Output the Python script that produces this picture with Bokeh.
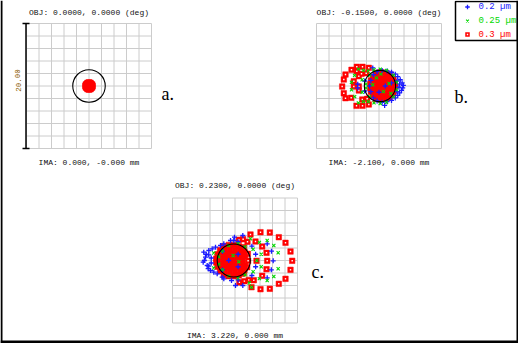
from bokeh.plotting import figure
from bokeh.models import Range1d
from bokeh.core.properties import value
from bokeh.embed import file_html
from bokeh.resources import INLINE

W, H = 518, 343
SCALE = 6.25  # px per micron
GRID_TICKS = [-10, -8, -6, -4, -2, 0, 2, 4, 6, 8, 10]

OBJ_LABELS = ["OBJ: 0.0000, 0.0000 (deg)", "OBJ: -0.1500, 0.0000 (deg)", "OBJ: 0.2300, 0.0000 (deg)"]
IMA_LABELS = ["IMA: 0.000, -0.000 mm", "IMA: -2.100, 0.000 mm", "IMA: 3.220, 0.000 mm"]
PANEL_TAGS = ["a.", "b.", "c."]
WAVELENGTHS = ["0.2 \u00b5m", "0.25 \u00b5m", "0.3 \u00b5m"]
SCALE_BAR_LABEL = "20.00"
AIRY_X = [0.0, 0.15, -0.2]
AIRY_Y = [0.0, 0.0, 0.0]
AIRY_R = [2.6, 2.5, 2.65]

# ---- panel a (on axis) ----
A_BLUE_X = [0.0, 0.3, -0.3, 0.2, -0.2]
A_BLUE_Y = [0.0, 0.2, -0.2, -0.3, 0.3]
A_GREEN_X = [0.0, 0.25, -0.25, 0.1, -0.1]
A_GREEN_Y = [0.0, -0.1, 0.1, 0.3, -0.3]
A_RED_X = [0.0, 0.3, -0.3, 0.0, 0.0, 0.6, -0.6, 0.0, 0.0, 0.36, -0.36, 0.36, -0.36, 0.52, -0.52, 0.52, -0.52, 0.24, -0.24, 0.24, -0.24]
A_RED_Y = [0.0, 0.0, 0.0, 0.3, -0.3, 0.0, 0.0, 0.6, -0.6, 0.36, 0.36, -0.36, -0.36, 0.24, 0.24, -0.24, -0.24, 0.52, 0.52, -0.52, -0.52]

# ---- panel b ----
B_RED_RING_X = [-3.55, -2.64, -1.63, -4.40, -3.55, -2.80, -5.63, -3.23, -5.89, -4.03, -3.23, -5.63, -3.23, -4.45, -3.60, -2.64, -1.63, -2.67, -4.03, -2.05, -1.89, -5.36, -5.36]
B_RED_RING_Y = [3.07, 3.07, 2.91, 2.59, 2.37, 1.95, 1.04, 1.57, -0.08, -0.08, -0.08, -1.15, -0.72, -1.89, -3.17, -3.17, -2.96, -2.16, 0.77, 2.05, -2.05, 1.84, -1.95]
B_RED_CORE_X = [-0.5, 0.3, 1.1, 1.7, -1.0, -0.2, 0.5, 1.2, 1.9, 2.3, -1.3, -0.6, 0.1, 0.9, 1.6, 2.4,
                -1.4, -0.7, 0.0, 0.7, 1.4, 2.1, 2.6, -1.4, -0.7, 0.0, 0.7, 1.4, 2.1,
                -1.3, -0.6, 0.1, 0.9, 1.6, 2.4, -1.0, -0.2, 0.5, 1.2, 1.9, 2.3, -0.5, 0.3, 1.1, 1.7]
B_RED_CORE_Y = [2.1, 2.2, 2.1, 1.9, 1.5, 1.6, 1.4, 1.6, 1.4, 1.1, 0.9, 1.0, 0.8, 1.0, 0.8, 0.6,
                0.3, 0.4, 0.2, 0.3, 0.2, 0.3, 0.0, -0.3, -0.4, -0.3, -0.4, -0.2, -0.3,
                -0.9, -1.0, -0.8, -1.0, -0.8, -0.7, -1.5, -1.6, -1.4, -1.6, -1.4, -1.2, -2.1, -2.2, -2.1, -1.9]
B_BLUE_X = [3.9, 3.8, 3.7, 3.6, 3.4, 3.3, 3.0, 3.0, 2.6, 2.6, 2.0, 2.0, 1.3, 1.3, 0.5, 0.5, -0.3, -0.3, -0.9, -0.9, -1.3, -1.3, -1.5,
            3.3, 3.2, 2.9, 2.9, -2.3, -2.3, -3.4, -3.4, 0.9, -1.0, 1.0, 0.0, 2.0]
B_BLUE_Y = [0.1, -0.3, 0.5, -0.7, 1.0, -1.1, 1.5, -1.5, 1.9, -1.9, 2.2, -2.3, 2.4, -2.5, 2.5, -2.6, 2.3, -2.4, 1.8, -1.9, 0.9, -0.9, 0.0,
            0.3, -0.2, 0.8, -0.9, 0.8, -0.8, 0.3, -0.3, -3.1, 2.9, 0.0, -1.0, 0.5]
B_GREEN_X = [-3.3, -2.5, -1.7, -0.8, 0.2, 1.2, -3.9, -4.4, -4.4, -3.9, -3.3, -2.5, -1.7, -0.8, 0.2, 1.2,
             -2.7, -2.7, -2.1, -2.1, -1.5, -1.5, 2.3, 2.3, 2.8, 2.8, -0.4, 0.7, 1.6, -1.0, 0.3, 1.9]
B_GREEN_Y = [2.7, 2.5, 2.4, 2.6, 2.7, 2.5, 1.7, 0.6, -0.6, -1.7, -2.7, -2.5, -2.5, -2.7, -2.8, -2.6,
             1.0, -1.0, 0.3, -0.3, 1.7, -1.7, 1.7, -1.7, 0.6, -0.6, 1.3, -0.9, 0.4, 0.2, 1.9, -1.2]

# ---- panel c ----
C_RED_RING_X = [4.08, 5.57, 7.01, 8.08, 8.88, 9.15, 8.88, 8.08, 7.01, 5.57, 4.08, 2.64, 2.48,
                5.04, 5.15, 5.04, 4.35, 4.35, 3.28, 3.01, 3.44, 2.05, 2.10, 1.95, 1.41, 1.41, 0.61, 1.3, 2.0, 0.7, 1.5, 2.2]
C_RED_RING_Y = [4.53, 4.48, 3.73, 2.83, 1.44, -0.05, -1.49, -2.93, -3.73, -4.53, -4.59, -4.27, 4.16,
                1.23, -0.05, -1.39, -2.45, 2.24, 3.04, -3.15, -0.05, 1.07, -0.05, -1.07, 2.13, -1.97, 3.31, 3.4, 3.0, -3.5, -3.3, -3.1]
C_RED_CORE_X = [-1.8, -1.0, -0.2, 0.6, 1.2, -2.4, -1.6, -0.8, 0.0, 0.8, 1.5,
                -2.8, -2.1, -1.4, -0.7, 0.1, 0.9, 1.6, -3.0, -2.3, -1.6, -0.9, -0.2, 0.5, 1.2,
                -3.0, -2.3, -1.6, -0.9, -0.2, 0.5, 1.2, -2.8, -2.1, -1.4, -0.7, 0.1, 0.9, 1.6,
                -2.4, -1.6, -0.8, 0.0, 0.8, 1.5, -1.8, -1.0, -0.2, 0.6, 1.2]
C_RED_CORE_Y = [2.3, 2.5, 2.5, 2.3, 2.0, 1.7, 1.8, 1.8, 1.7, 1.6, 1.4,
                1.0, 1.1, 1.0, 1.1, 1.0, 0.9, 0.7, 0.3, 0.4, 0.3, 0.4, 0.3, 0.4, 0.2,
                -0.3, -0.4, -0.3, -0.4, -0.3, -0.4, -0.3, -1.0, -1.1, -1.0, -1.1, -1.0, -0.9, -0.8,
                -1.7, -1.8, -1.8, -1.7, -1.6, -1.5, -2.3, -2.5, -2.5, -2.4, -2.1]
C_BLUE_X = [-5.0, -4.72, -5.09, -4.45, -4.19, -3.65, -3.12, -3.92, -3.39, -2.85, -2.05, -1.79, -2.32, -1.79, -4.6, -4.9, -4.3, -3.8, -3.8, -4.2, -4.2,
            -0.19, 1.25, -0.08, 0.08, 1.25, -0.72, -0.56, 0.5, 0.5,
            5.84, 6.11, 5.81, 5.15, 5.15, 3.3, 3.3, 2.7, 2.7,
            -1.0, 0.5, 0.5, -2.0, -2.0]
C_BLUE_Y = [1.33, 0.53, -0.27, -0.8, 1.6, 1.87, 2.13, -1.6, -1.87, -2.13, -2.67, -2.93, 2.4, 2.67, 1.0, 0.0, -1.3, 0.4, -0.4, 0.9, -0.9,
            3.2, 4.0, 3.73, -4.0, -4.0, 3.2, -3.2, 3.0, -3.1,
            1.49, -0.05, -1.49, 2.67, -2.77, 1.0, -1.0, 2.3, -2.4,
            0.0, 1.0, -1.0, 1.5, -1.5]
C_GREEN_X = [5.15, 6.21, 6.91, 6.91, 6.21, 5.15, 3.5, 2.48, 2.64, 2.3, 2.9, 2.9, -2.0, -2.6, -2.6, -2.0,
             0.5, 0.5, -1.0, -1.0, 1.6, 1.6, 4.2, 4.2, 3.9, 3.9, -3.4, -3.4, -0.3, 0.6]
C_GREEN_Y = [3.2, 2.4, 1.23, -1.33, -2.56, -3.2, 0.0, 3.47, -4.27, -3.6, 1.8, -1.8, 1.5, 0.6, -0.6, -1.5,
             2.7, -2.8, 2.4, -2.5, 2.2, -2.3, 1.0, -1.0, 2.9, -2.9, 1.2, -1.2, 0.8, -0.2]

# ---- layout (pixels) ----
PANEL_NAMES = ["a", "b", "c"]
PANEL_LEFT = [26, 316, 172]
PANEL_TOP = [23, 23, 197.5]
TITLE_Y = [12, 12, 185]
IMA_Y = [162, 162, 335]
TAG_X = [161, 454, 311]
TAG_Y = [93, 96.5, 271.5]

BLUE = "#1a1aff"
GREEN = "#00d800"
RED = "#ff0000"

p = figure(width=W, height=H, x_range=Range1d(0, W), y_range=Range1d(H, 0),
           output_backend="svg", toolbar_location=None,
           x_axis_type=None, y_axis_type=None, min_border=0)
p.min_border_left = p.min_border_right = p.min_border_top = p.min_border_bottom = 0
p.grid.visible = False
p.outline_line_color = None
p.background_fill_color = "white"
p.border_fill_color = "white"

for name, L, T in zip(PANEL_NAMES, PANEL_LEFT, PANEL_TOP):
    xs = -10 - L / SCALE
    yt = 10 + T / SCALE
    p.extra_x_ranges[name] = Range1d(xs, xs + W / SCALE)
    p.extra_y_ranges[name] = Range1d(yt - H / SCALE, yt)

n = len(GRID_TICKS)
for name in PANEL_NAMES:
    p.segment(x0=GRID_TICKS + [-10] * n, y0=[-10] * n + GRID_TICKS,
              x1=GRID_TICKS + [10] * n, y1=[10] * n + GRID_TICKS,
              line_color="#cccccc", line_width=1, x_range_name=name, y_range_name=name)

def blue(name, x, y):
    p.scatter(x, y, marker="cross", size=5, line_color=BLUE, line_width=1.3,
              x_range_name=name, y_range_name=name)

def green(name, x, y):
    p.scatter(x, y, marker="x", size=4.5, line_color=GREEN, line_width=1.1,
              x_range_name=name, y_range_name=name)

def red(name, x, y, dots=True):
    p.scatter(x, y, marker="square", size=5.5, line_color=RED, line_width=0.5,
              fill_color=RED, x_range_name=name, y_range_name=name)
    if dots:
        p.scatter(x, y, marker="square", size=1.4, line_color=None,
                  fill_color="white", x_range_name=name, y_range_name=name)

# panel a: red on top
blue("a", A_BLUE_X, A_BLUE_Y)
green("a", A_GREEN_X, A_GREEN_Y)
red("a", A_RED_X, A_RED_Y, dots=False)
# panels b, c
red("b", B_RED_RING_X, B_RED_RING_Y)
red("b", B_RED_CORE_X, B_RED_CORE_Y, dots=False)
blue("b", B_BLUE_X, B_BLUE_Y)
green("b", B_GREEN_X, B_GREEN_Y)
red("c", C_RED_RING_X, C_RED_RING_Y)
red("c", C_RED_CORE_X, C_RED_CORE_Y, dots=False)
blue("c", C_BLUE_X, C_BLUE_Y)
green("c", C_GREEN_X, C_GREEN_Y)

for i, name in enumerate(PANEL_NAMES):
    p.circle(x=[AIRY_X[i]], y=[AIRY_Y[i]], radius=AIRY_R[i], fill_color=None,
             line_color="black", line_width=1.1, x_range_name=name, y_range_name=name)

# texts
cx = [L + 62.5 for L in PANEL_LEFT]
mono = value("Liberation Mono")
p.text(x=cx, y=TITLE_Y, text=OBJ_LABELS, text_font=mono, text_font_size="8px",
       text_align="center", text_baseline="middle", text_color="#111111")
p.text(x=cx, y=IMA_Y, text=IMA_LABELS, text_font=mono, text_font_size="8px",
       text_align="center", text_baseline="middle", text_color="#111111")
p.text(x=TAG_X, y=TAG_Y, text=PANEL_TAGS, text_font=value("Liberation Serif"),
       text_font_size="18px", text_align="left", text_baseline="alphabetic", text_color="black")

# scale bar on panel a
p.segment(x0=[25.5, 22, 22], y0=[23, 23, 148], x1=[25.5, 29, 29], y1=[148, 23, 148],
          line_color="black", line_width=1.5)
p.text(x=[17.5], y=[80], text=[SCALE_BAR_LABEL], angle=1.5708, text_font=mono,
       text_font_size="7.5px", text_align="center", text_baseline="middle", text_color="#8b5a00")

# legend box
p.quad(left=[455], right=[517], top=[1], bottom=[40], fill_color="white",
       line_color="black", line_width=1.5)
LEG_Y = [6.5, 20.5, 34]
p.scatter([467], [LEG_Y[0]], marker="cross", size=4.5, line_color=BLUE, line_width=1.3)
p.scatter([467], [LEG_Y[1]], marker="x", size=4, line_color=GREEN, line_width=1.1)
p.scatter([467], [LEG_Y[2]], marker="square", size=4.5, line_color=None, fill_color=RED)
p.scatter([467], [LEG_Y[2]], marker="square", size=1.4, line_color=None, fill_color="white")
p.text(x=[478] * 3, y=LEG_Y, text=WAVELENGTHS, text_font=mono, text_font_size="9px",
       text_align="left", text_baseline="middle", text_color=[BLUE, GREEN, RED])

# outer frame (left, right, bottom)
p.segment(x0=[1, 517, 0], y0=[0, 0, 341.5], x1=[1, 517, 518], y1=[343, 343, 341.5],
          line_color="black", line_width=[2, 2, 3])

open("out.html", "w").write(file_html(p, INLINE))
